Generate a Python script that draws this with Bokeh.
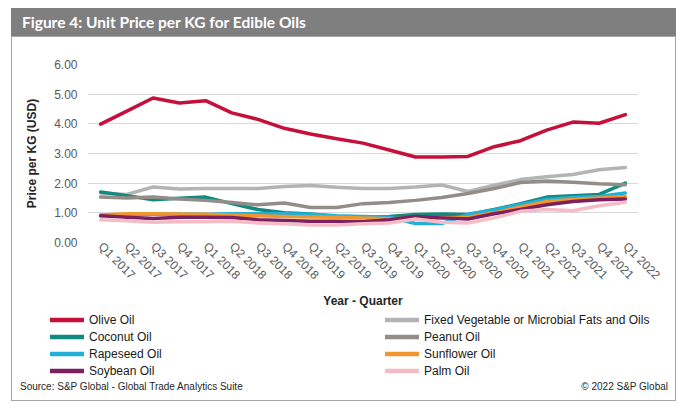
import math
from bokeh.plotting import figure
from bokeh.models import Range1d, FixedTicker, Legend, LegendItem, NumeralTickFormatter, Div
from bokeh.layouts import column
from bokeh.embed import file_html
from bokeh.resources import INLINE

quarters = ["Q1 2017", "Q2 2017", "Q3 2017", "Q4 2017", "Q1 2018", "Q2 2018", "Q3 2018",
            "Q4 2018", "Q1 2019", "Q2 2019", "Q3 2019", "Q4 2019", "Q1 2020", "Q2 2020",
            "Q3 2020", "Q4 2020", "Q1 2021", "Q2 2021", "Q3 2021", "Q4 2021", "Q1 2022"]

olive = [3.99, 4.43, 4.87, 4.70, 4.78, 4.37, 4.15, 3.85, 3.66, 3.50, 3.35, 3.12, 2.88, 2.88,
         2.90, 3.23, 3.43, 3.79, 4.06, 4.02, 4.31]
fixed_veg = [1.67, 1.62, 1.87, 1.80, 1.82, 1.82, 1.82, 1.89, 1.92, 1.86, 1.82, 1.82, 1.87, 1.94,
             1.72, 1.93, 2.12, 2.22, 2.29, 2.45, 2.53]
coconut = [1.70, 1.58, 1.44, 1.49, 1.53, 1.31, 1.11, 1.00, 0.96, 0.88, 0.86, 0.88, 0.94, 0.96,
           0.94, 1.11, 1.31, 1.53, 1.58, 1.62, 2.00]
peanut = [1.53, 1.50, 1.53, 1.47, 1.42, 1.35, 1.27, 1.33, 1.18, 1.18, 1.31, 1.35, 1.42, 1.52,
          1.65, 1.82, 2.02, 2.07, 2.03, 1.98, 1.95]
rapeseed = [0.92, 0.93, 0.95, 0.95, 0.95, 0.97, 0.97, 0.97, 0.95, 0.90, 0.88, 0.85, 0.64, 0.64,
            0.95, 1.10, 1.28, 1.45, 1.52, 1.55, 1.67]
sunflower = [0.93, 0.97, 0.97, 0.96, 0.95, 0.93, 0.90, 0.88, 0.86, 0.85, 0.83, 0.80, 0.82, 0.83,
             0.85, 1.00, 1.20, 1.38, 1.45, 1.50, 1.55]
soybean = [0.90, 0.85, 0.81, 0.85, 0.85, 0.84, 0.77, 0.74, 0.72, 0.72, 0.70, 0.77, 0.88, 0.83,
           0.79, 0.97, 1.11, 1.27, 1.38, 1.44, 1.47]
palm = [0.77, 0.73, 0.68, 0.70, 0.70, 0.72, 0.66, 0.63, 0.59, 0.59, 0.63, 0.66, 0.79, 0.68,
        0.66, 0.83, 1.05, 1.11, 1.07, 1.24, 1.36]

series_names = ["Olive Oil", "Fixed Vegetable or Microbial Fats and Oils", "Coconut Oil",
                "Peanut Oil", "Rapeseed Oil", "Sunflower Oil", "Soybean Oil", "Palm Oil"]
series_values = [olive, fixed_veg, coconut, peanut, rapeseed, sunflower, soybean, palm]
series_colors = ["#c4103a", "#b4b4b4", "#138a80", "#938d87", "#22b0d9", "#f0962e",
                 "#7d2060", "#f4bcc4"]

legend_order = ["Olive Oil", "Coconut Oil", "Rapeseed Oil", "Soybean Oil",
                "Fixed Vegetable or Microbial Fats and Oils", "Peanut Oil", "Sunflower Oil",
                "Palm Oil"]

y_ticks = [0, 1, 2, 3, 4, 5, 6]

title_text = "Figure 4: Unit Price per KG for Edible Oils"
source_text = "Source: S&amp;P Global - Global Trade Analytics Suite"
copyright_text = "\u00a9 2022 S&amp;P Global"

AXIS_FONT = "Liberation Sans"
NAN = float("nan")


def no_frame_align(fig):
    try:
        fig.frame_align = False
    except Exception:
        pass


# ---- title bar ----
title_div = Div(text=title_text, width=665, height=28, margin=0,
                styles={"background-color": "#7f7f7f", "color": "white",
                        "font-family": "Lato, 'Open Sans', sans-serif", "font-weight": "bold",
                        "font-size": "15.5px", "line-height": "28px", "text-indent": "11px",
                        "white-space": "nowrap", "overflow": "hidden"})

# ---- main chart ----
p = figure(width=663, height=274, x_range=Range1d(-0.5, 20.5), y_range=Range1d(0, 6),
           toolbar_location=None, output_backend="svg",
           min_border_left=75, min_border_right=37, min_border_top=27, min_border_bottom=69)
no_frame_align(p)
p.background_fill_color = "white"
p.border_fill_color = "white"
p.outline_line_color = None

p.yaxis.ticker = FixedTicker(ticks=y_ticks)
p.yaxis.formatter = NumeralTickFormatter(format="0.00")
p.xaxis.ticker = FixedTicker(ticks=list(range(len(quarters))))
p.xaxis.major_label_overrides = {i: q for i, q in enumerate(quarters)}
p.xaxis.major_label_orientation = -math.pi / 4

p.axis.axis_line_color = None
p.axis.major_tick_line_color = None
p.axis.minor_tick_line_color = None
p.axis.major_tick_out = 0
p.axis.major_tick_in = 0
p.axis.major_label_text_font = AXIS_FONT
p.axis.major_label_text_font_size = "12px"
p.axis.major_label_text_color = "#595959"
p.yaxis.major_label_standoff = 10
p.xaxis.major_label_standoff = 2

p.xaxis.axis_label = "Year - Quarter"
p.yaxis.axis_label = "Price per KG (USD)"
p.axis.axis_label_text_font = AXIS_FONT
p.axis.axis_label_text_font_style = "bold"
p.axis.axis_label_text_font_size = "12px"
p.axis.axis_label_text_color = "#262626"
p.xaxis.axis_label_standoff = 4
p.yaxis.axis_label_standoff = 12

p.xgrid.grid_line_color = None
p.ygrid.grid_line_color = "#d9d9d9"
p.ygrid.grid_line_width = 1

xs = list(range(len(quarters)))
for name, vals, col in zip(series_names, series_values, series_colors):
    p.line(x=xs, y=vals, line_color=col, line_width=3.5, line_join="round", line_cap="round")

# ---- legend (own strip below the chart) ----
leg_fig = figure(width=663, height=70, x_range=Range1d(0, 1), y_range=Range1d(0, 1),
                 toolbar_location=None, output_backend="svg", min_border=0,
                 x_axis_location=None, y_axis_location=None)
no_frame_align(leg_fig)
leg_fig.grid.visible = False
leg_fig.outline_line_color = None
leg_fig.background_fill_color = "white"
leg_fig.border_fill_color = "white"
proxies = {}
for name, col in zip(series_names, series_colors):
    proxies[name] = leg_fig.line(x=[NAN], y=[NAN], line_color=col, line_width=4.5,
                                 line_cap="round")

legend = Legend(items=[LegendItem(label=n, renderers=[proxies[n]]) for n in legend_order],
                location=(38, 2), ncols=2, orientation="vertical",
                label_width=296, glyph_width=34, glyph_height=17, label_height=17,
                label_standoff=5, spacing=0, padding=0, margin=0,
                border_line_color=None, background_fill_alpha=0,
                label_text_font=AXIS_FONT, label_text_font_size="12px",
                label_text_color="#1a1a1a")
leg_fig.add_layout(legend)

footer = Div(text=("<div style='display:flex;justify-content:space-between;width:648px;'>"
                   f"<span>{source_text}</span><span>{copyright_text}</span></div>"),
             width=663, height=19, margin=0,
             styles={"font-family": "'Liberation Sans', Arial, sans-serif", "font-size": "10px",
                     "line-height": "12px", "color": "#262626",
                     "padding-left": "8px", "box-sizing": "border-box",
                     "background-color": "white"})

body = column(p, leg_fig, footer, spacing=0, styles={"border": "1px solid #a6a6a6"})
layout = column(title_div, body, spacing=0, margin=(8, 0, 0, 11))

open("out.html", "w").write(file_html(layout, INLINE))
